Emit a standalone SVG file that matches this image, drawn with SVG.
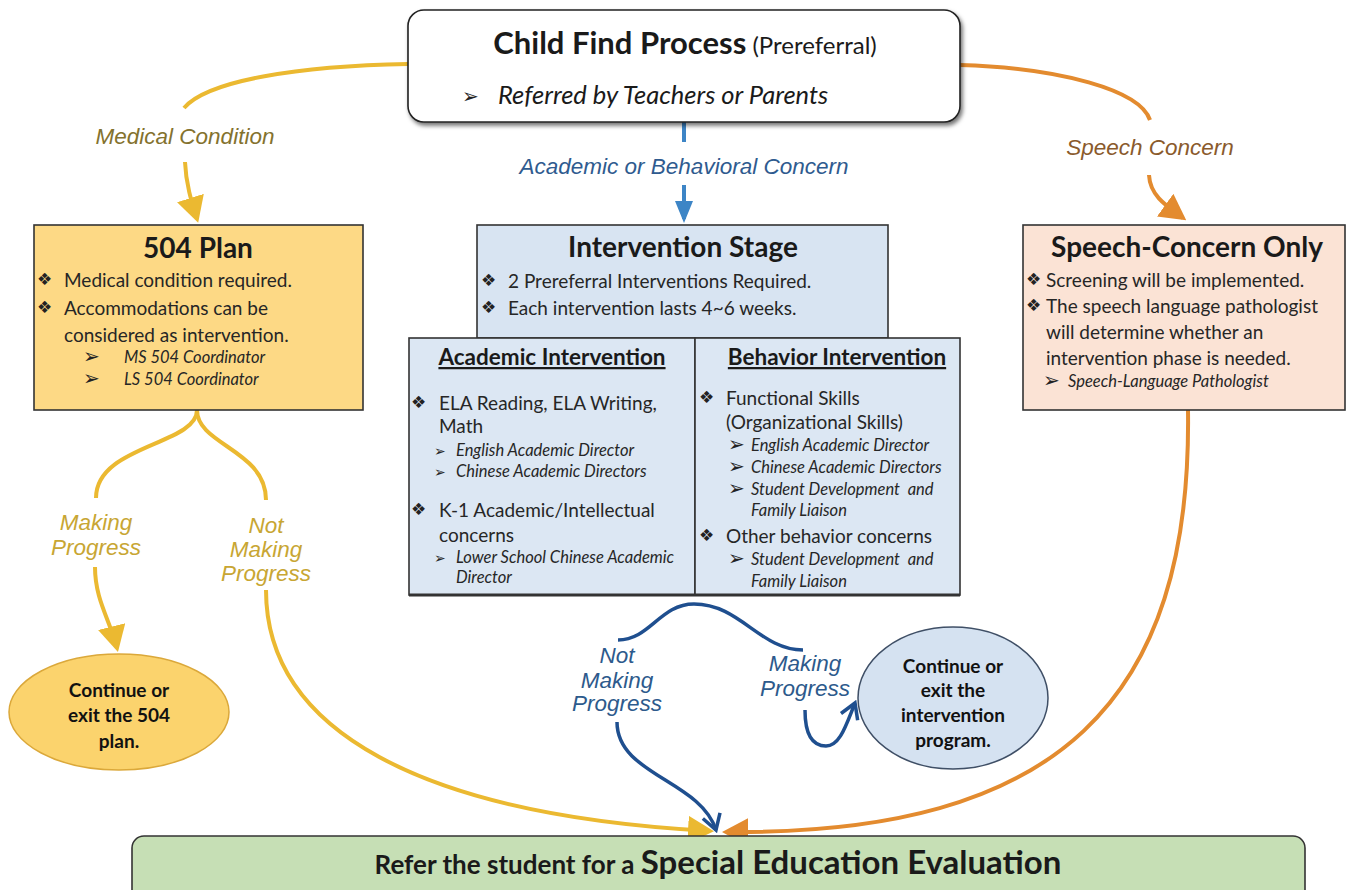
<svg xmlns="http://www.w3.org/2000/svg" width="1354" height="890" viewBox="0 0 1354 890">
<defs>
<style>
.t{font-family:Lato,'DejaVu Sans',sans-serif;fill:#1a1a1a}
.ttl{font-size:28px;font-weight:bold;text-anchor:middle}
.hd{font-size:22.5px;font-weight:bold;text-anchor:middle;text-decoration:underline}
.bd{font-size:19px;fill:#262626}
.sb{font-size:16.5px;font-style:italic;fill:#262626}
.dia{font-family:'DejaVu Sans',sans-serif;font-size:17px;fill:#222}
.arw{font-family:'DejaVu Sans',sans-serif;font-size:20px;fill:#222}
.ta{font-family:'DejaVu Sans',sans-serif;font-size:14px;font-style:normal}
.ov{font-family:Lato,'DejaVu Sans',sans-serif;font-size:19px;font-weight:bold;text-anchor:middle;fill:#111}
.lb{font-family:'Liberation Sans',Arial,sans-serif;font-style:italic;font-size:22.5px;text-anchor:middle}
.box{stroke:#333;stroke-width:1.6}
.cy{fill:none;stroke:#ebb931;stroke-width:4}
.co{fill:none;stroke:#e38b2f;stroke-width:4}
.cb{fill:none;stroke:#1f4f8f;stroke-width:3.5}
</style>
<marker id="triY" viewBox="0 0 26 28" refX="22" refY="14" markerWidth="26" markerHeight="28" markerUnits="userSpaceOnUse" orient="auto"><path d="M0,0 L26,14 L0,28 z" fill="#ebb931"/></marker>
<marker id="triO" viewBox="0 0 26 28" refX="22" refY="14" markerWidth="26" markerHeight="28" markerUnits="userSpaceOnUse" orient="auto"><path d="M0,0 L26,14 L0,28 z" fill="#e38b2f"/></marker>
<marker id="triB" viewBox="0 0 22 18" refX="18" refY="9" markerWidth="22" markerHeight="18" markerUnits="userSpaceOnUse" orient="auto"><path d="M0,0 L22,9 L0,18 z" fill="#3d85c6"/></marker>
<marker id="openB" viewBox="0 0 20 22" refX="17" refY="11" markerWidth="20" markerHeight="22" markerUnits="userSpaceOnUse" orient="auto"><path d="M2,2 L17,11 L2,20" fill="none" stroke="#1f4f8f" stroke-width="3.5" stroke-linejoin="miter"/></marker>
<filter id="sh" x="-5%" y="-10%" width="110%" height="130%"><feDropShadow dx="2" dy="3" stdDeviation="2" flood-color="#000" flood-opacity="0.55"/></filter>
</defs>
<rect width="1354" height="890" fill="#fff"/>

<g id="connectors">
<path class="cy" d="M408,64 C300,66 208,80 184,108"/>
<path class="cy" d="M185,162 C186,185 192,203 197,219" marker-end="url(#triY)"/>
<path class="cy" d="M197,410 C197,445 96,445 96,498"/>
<path class="cy" d="M197,410 C197,445 266,450 266,500"/>
<path class="cy" d="M95,567 C95,600 110,620 117,648" marker-end="url(#triY)"/>
<path class="cy" d="M266,590 C266,730 420,815 710,831" marker-end="url(#triY)"/>
<path class="co" d="M960,65 C1060,68 1140,90 1150,120"/>
<path class="co" d="M1149,175 C1150,195 1165,205 1183,218" marker-end="url(#triO)"/>
<path class="co" d="M1188,410 C1192,700 1060,835 726,832" marker-end="url(#triO)"/>
<path fill="none" stroke="#3d85c6" stroke-width="4" d="M684,122 L684,142"/>
<path fill="none" stroke="#3d85c6" stroke-width="4" d="M684,185 L684,219" marker-end="url(#triB)"/>
<path class="cb" d="M618,640 C650,640 660,604 694,604 C740,604 760,650 803,650"/>
<path class="cb" d="M617,722 C617,775 700,780 716,830" marker-end="url(#openB)"/>
<path class="cb" d="M805,710 C805,738 815,746 826,746 C840,746 846,725 855,703" marker-end="url(#openB)"/>
<text class="lb" x="185" y="144" fill="#84722e">Medical Condition</text>
<text class="lb" x="1150" y="155" fill="#8a5a2c">Speech Concern</text>
<text class="lb" x="684" y="174" fill="#2f5b8f">Academic or Behavioral Concern</text>
<text class="lb" x="96" y="530" fill="#c8a633">Making</text>
<text class="lb" x="96" y="555" fill="#c8a633">Progress</text>
<text class="lb" x="266" y="533" fill="#c8a633">Not</text>
<text class="lb" x="266" y="557" fill="#c8a633">Making</text>
<text class="lb" x="266" y="581" fill="#c8a633">Progress</text>
<text class="lb" x="617" y="663" fill="#2d5a8c">Not</text>
<text class="lb" x="617" y="688" fill="#2d5a8c">Making</text>
<text class="lb" x="617" y="711" fill="#2d5a8c">Progress</text>
<text class="lb" x="805" y="671" fill="#2d5a8c">Making</text>
<text class="lb" x="805" y="696" fill="#2d5a8c">Progress</text>
</g>

<g id="child-find">
<rect x="408" y="10" width="552" height="112" rx="16" fill="#fff" stroke="#222" stroke-width="1.6" filter="url(#sh)"/>
<text class="t" x="685" y="54" text-anchor="middle"><tspan font-size="31" font-weight="bold">Child Find Process</tspan><tspan font-size="24"> (Prereferral)</tspan></text>
<text class="arw" x="462" y="103" font-size="28">➢</text>
<text class="t" x="498" y="104" font-size="25.5" font-style="italic">Referred by Teachers or Parents</text>
</g>

<g id="plan504">
<rect class="box" x="34" y="225" width="329" height="185" fill="#fdd985"/>
<text class="t ttl" x="198" y="258">504 Plan</text>
<text class="dia" x="37" y="285">❖</text>
<text class="t bd" x="64" y="287" font-size="19.5">Medical condition required.</text>
<text class="dia" x="37" y="313">❖</text>
<text class="t bd" x="64" y="315" font-size="19.5">Accommodations can be</text>
<text class="t bd" x="64" y="342" font-size="19.5">considered as intervention.</text>
<text class="arw" x="83" y="363">➢</text>
<text class="t sb" x="124" y="363" font-size="15">MS 504 Coordinator</text>
<text class="arw" x="83" y="385">➢</text>
<text class="t sb" x="124" y="385" font-size="15">LS 504 Coordinator</text>
</g>

<g id="intervention-stage">
<rect class="box" x="477" y="225" width="411" height="113" fill="#d8e4f2"/>
<text class="t ttl" x="683" y="257">Intervention Stage</text>
<text class="dia" x="481" y="286">❖</text>
<text class="t bd" x="508" y="288">2 Prereferral Interventions Required.</text>
<text class="dia" x="481" y="313">❖</text>
<text class="t bd" x="508" y="315">Each intervention lasts 4~6 weeks.</text>
</g>

<g id="academic-intervention">
<rect class="box" x="409" y="338" width="286" height="257" fill="#dce7f3"/>
<text class="t hd" x="552" y="365">Academic Intervention</text>
<text class="dia" x="411" y="408">❖</text>
<text class="t bd" x="439" y="410">ELA Reading, ELA Writing,</text>
<text class="t bd" x="439" y="433">Math</text>
<text class="t sb" x="434" y="456"><tspan class="ta">➢</tspan><tspan x="456">English Academic Director</tspan></text>
<text class="t sb" x="434" y="477"><tspan class="ta">➢</tspan><tspan x="456">Chinese Academic Directors</tspan></text>
<text class="dia" x="411" y="515">❖</text>
<text class="t bd" x="439" y="517">K-1 Academic/Intellectual</text>
<text class="t bd" x="439" y="542">concerns</text>
<text class="t sb" x="434" y="563"><tspan class="ta">➢</tspan><tspan x="456">Lower School Chinese Academic</tspan></text>
<text class="t sb" x="456" y="583">Director</text>
</g>

<g id="behavior-intervention">
<rect class="box" x="695" y="338" width="265" height="257" fill="#dce7f3"/>
<line x1="409" y1="595" x2="960" y2="595" stroke="#333" stroke-width="3"/>
<text class="t hd" x="837" y="365">Behavior Intervention</text>
<text class="dia" x="699" y="403">❖</text>
<text class="t bd" x="726" y="405">Functional Skills</text>
<text class="t bd" x="726" y="429">(Organizational Skills)</text>
<text class="arw" x="728" y="451">➢</text>
<text class="t sb" x="751" y="451">English Academic Director</text>
<text class="arw" x="728" y="473">➢</text>
<text class="t sb" x="751" y="473">Chinese Academic Directors</text>
<text class="arw" x="728" y="495">➢</text>
<text class="t sb" x="751" y="495" xml:space="preserve">Student Development  and</text>
<text class="t sb" x="751" y="516">Family Liaison</text>
<text class="dia" x="699" y="541">❖</text>
<text class="t bd" x="726" y="543">Other behavior concerns</text>
<text class="arw" x="728" y="565">➢</text>
<text class="t sb" x="751" y="565" xml:space="preserve">Student Development  and</text>
<text class="t sb" x="751" y="587">Family Liaison</text>
</g>

<g id="speech-concern">
<rect class="box" x="1023" y="225" width="322" height="185" fill="#fbe3d5"/>
<text class="t ttl" x="1187" y="257">Speech-Concern Only</text>
<text class="dia" x="1026" y="285">❖</text>
<text class="t bd" x="1046" y="287" font-size="20">Screening will be implemented.</text>
<text class="dia" x="1026" y="311">❖</text>
<text class="t bd" x="1046" y="313" font-size="20">The speech language pathologist</text>
<text class="t bd" x="1046" y="339" font-size="20">will determine whether an</text>
<text class="t bd" x="1046" y="365" font-size="20">intervention phase is needed.</text>
<text class="arw" x="1043" y="387">➢</text>
<text class="t sb" x="1068" y="387" font-size="17">Speech-Language Pathologist</text>
</g>

<g id="continue-504">
<ellipse cx="119" cy="712" rx="110" ry="58" fill="#fbd36d" stroke="#dba83a" stroke-width="1.5"/>
<text class="ov" x="119" y="697">Continue or</text>
<text class="ov" x="119" y="722">exit the 504</text>
<text class="ov" x="119" y="748">plan.</text>
</g>

<g id="continue-intervention">
<ellipse cx="953" cy="698" rx="95" ry="71" fill="#d5e2f1" stroke="#3f4f66" stroke-width="1.5"/>
<text class="ov" x="953" y="673">Continue or</text>
<text class="ov" x="953" y="697">exit the</text>
<text class="ov" x="953" y="722">intervention</text>
<text class="ov" x="953" y="747">program.</text>
</g>

<g id="special-education">
<rect x="132" y="836" width="1173" height="70" rx="12" fill="#c6dfb5" stroke="#333" stroke-width="1.6"/>
<text class="t" x="718" y="874" text-anchor="middle" font-weight="bold"><tspan font-size="26">Refer the student for a </tspan><tspan font-size="33">Special Education Evaluation</tspan></text>
</g>
</svg>
